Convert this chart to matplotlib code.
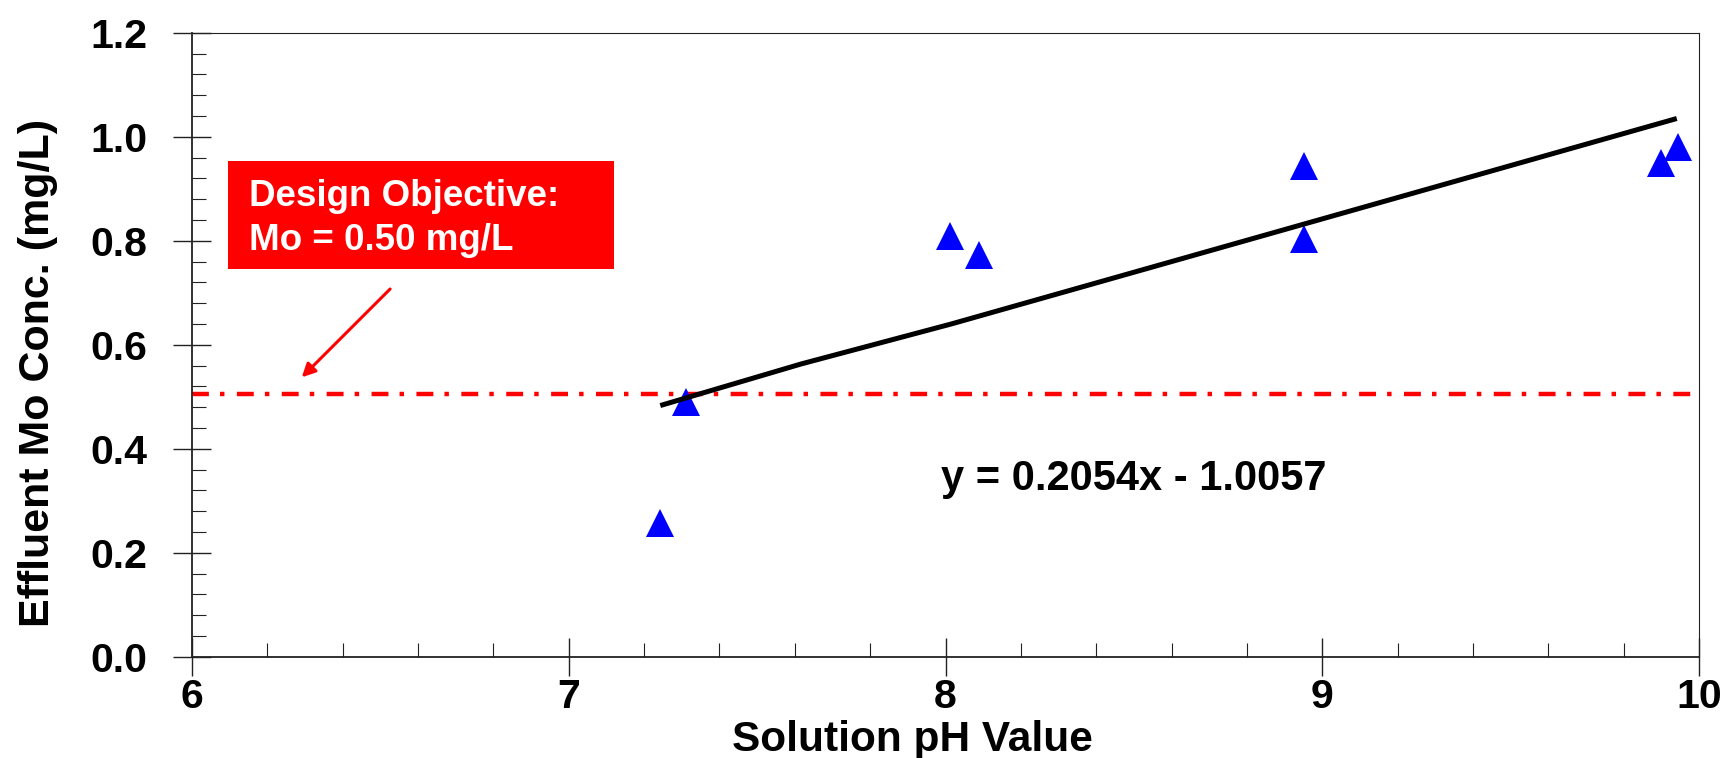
import matplotlib
matplotlib.use("Agg")
import matplotlib.pyplot as plt
from matplotlib.ticker import MultipleLocator, FixedLocator
from matplotlib.patches import Rectangle

# ---- data ----
ph_values = [7.243, 7.312, 8.011, 8.089, 8.952, 8.952, 9.899, 9.943]
mo_conc = [0.257, 0.490, 0.809, 0.772, 0.943, 0.803, 0.950, 0.981]

trend_x = [7.243, 7.617, 8.016, 9.941]
trend_y = [0.483, 0.563, 0.640, 1.035]

objective_level = 0.505
equation_label = "y = 0.2054x - 1.0057"
box_lines = ["Design Objective:", "Mo = 0.50 mg/L"]

x_ticks = [6, 7, 8, 9, 10]
y_ticks = [0.0, 0.2, 0.4, 0.6, 0.8, 1.0, 1.2]
y_tick_labels = ["0.0", "0.2", "0.4", "0.6", "0.8", "1.0", "1.2"]

x_label = "Solution pH Value"
y_label = "Effluent Mo Conc. (mg/L)"

plt.rcParams["font.family"] = ["Liberation Sans", "DejaVu Sans"]
plt.rcParams["font.weight"] = "bold"

W, H = 1724, 758
fig = plt.figure(figsize=(W / 100, H / 100), dpi=100)
left, right, top, bottom = 192, 1699, 32.7, 656.7
ax = fig.add_axes([left / W, 1 - bottom / H, (right - left) / W, (bottom - top) / H])

ax.set_xlim(6, 10)
ax.set_ylim(0, 1.2)

# objective line
ax.axhline(objective_level, color="red", lw=3.2,
           linestyle=(0, (3.8, 2.5, 1.0, 2.8)), zorder=1)

# data points
ax.plot(ph_values, mo_conc, linestyle="none", marker="^", ms=20,
        markeredgewidth=0, color="#0000ff", zorder=2)

# trend line
ax.plot(trend_x, trend_y, color="black", lw=3.6, solid_capstyle="butt", zorder=3)

# equation
ax.text(7.989, 0.3206, equation_label, fontsize=30, fontweight="bold",
        ha="left", va="baseline")

# red annotation box
bx0, bx1 = 6 + (228 - left) / 376.5, 6 + (614 - left) / 376.5
by0, by1 = (bottom - 269.3) / 520, (bottom - 161) / 520
ax.add_patch(Rectangle((bx0, by0), bx1 - bx0, by1 - by0, facecolor="#ff0000",
                       edgecolor="none", zorder=4, clip_on=False))
tx = 6 + (249 - left) / 376.5
ax.text(tx, (bottom - 205.7) / 520, box_lines[0], color="white", fontsize=26.5,
        fontweight="bold", ha="left", va="baseline", zorder=5)
ax.text(tx, (bottom - 250) / 520, box_lines[1], color="white", fontsize=26.5,
        fontweight="bold", ha="left", va="baseline", zorder=5)

# arrow
ax.annotate("", xy=(6 + (301.7 - left) / 376.5, (bottom - 377.3) / 520),
            xytext=(6 + (390 - left) / 376.5, (bottom - 289) / 520),
            arrowprops=dict(arrowstyle="-|>", color="red", lw=2.2,
                            mutation_scale=20, shrinkA=0, shrinkB=0),
            zorder=5)

# ticks
ax.xaxis.set_major_locator(FixedLocator(x_ticks))
ax.xaxis.set_minor_locator(MultipleLocator(0.2))
ax.yaxis.set_major_locator(FixedLocator(y_ticks))
ax.yaxis.set_minor_locator(MultipleLocator(0.04))
ax.set_yticklabels(y_tick_labels)
ax.set_xticklabels([str(v) for v in x_ticks])

ax.tick_params(axis="both", which="major", direction="inout", length=28,
               width=1.0, color="#222222", labelsize=29.5)
ax.tick_params(axis="x", which="major", pad=1.3)
ax.tick_params(axis="y", which="major", pad=18.4)
ax.tick_params(axis="both", which="minor", direction="in", length=10,
               width=0.8, color="#222222")
for lab in ax.get_xticklabels() + ax.get_yticklabels():
    lab.set_fontweight("bold")

for s in ["left", "bottom"]:
    ax.spines[s].set_linewidth(1.3)
    ax.spines[s].set_color("#222222")
for s in ["top", "right"]:
    ax.spines[s].set_linewidth(0.8)
    ax.spines[s].set_color("#222222")

# axis labels
ax.set_xlabel(x_label, fontsize=30.5, fontweight="bold")
ax.xaxis.set_label_coords((912 - left) / (right - left), (bottom - 720.5) / (bottom - top))
ax.set_ylabel(y_label, fontsize=31, fontweight="bold")
ax.yaxis.set_label_coords((58 - left) / (right - left), (bottom - 372.5) / (bottom - top))

fig.savefig("out.png", dpi=100)
